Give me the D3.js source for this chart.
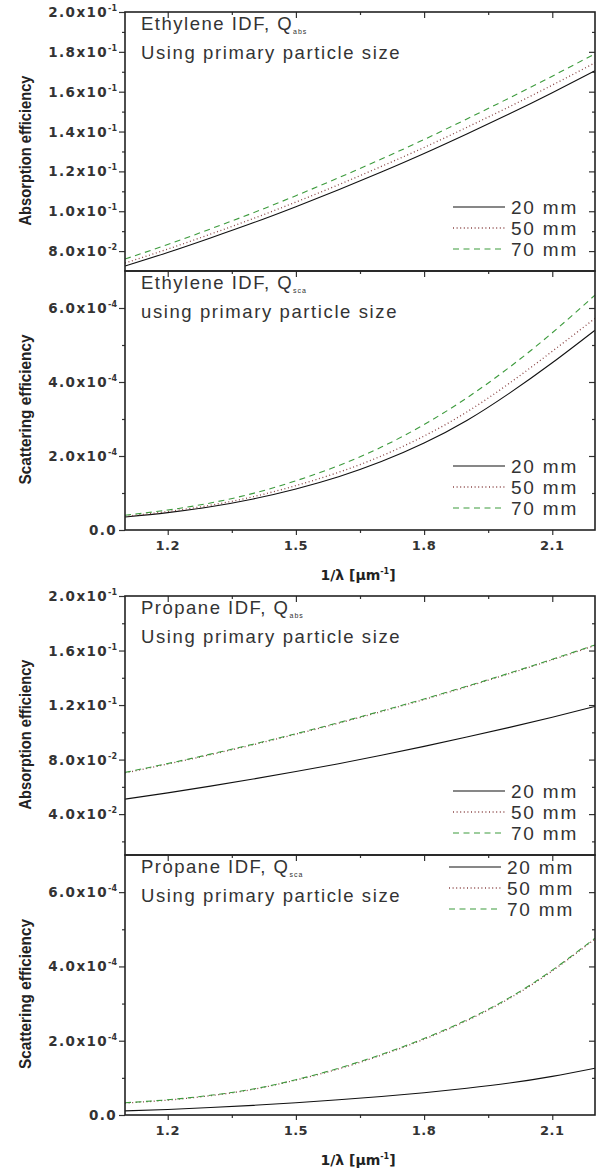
<!DOCTYPE html>
<html>
<head>
<meta charset="utf-8">
<script src="https://cdn.jsdelivr.net/npm/d3@7/dist/d3.min.js"></script>
<style>
  body { margin: 0; background: #fff; }
  svg { display: block; }
</style>
</head>
<body>
<main></main>
<script>
// x values, 1/lambda [um^-1]
const lambdaInv = [1.1, 1.2, 1.3, 1.4, 1.5, 1.6, 1.7, 1.8, 1.9, 2.0, 2.1, 2.2];
const seriesNames = ["20 mm", "50 mm", "70 mm"];

// Ethylene IDF, Q_abs
const ethAbs20 = [0.0725, 0.0793, 0.0866, 0.0942, 0.1023, 0.1108, 0.1197, 0.1290, 0.1388, 0.1489, 0.1595, 0.1705];
const ethAbs50 = [0.0740, 0.0810, 0.0885, 0.0963, 0.1046, 0.1133, 0.1225, 0.1320, 0.1421, 0.1525, 0.1633, 0.1745];
const ethAbs70 = [0.0760, 0.0833, 0.0911, 0.0992, 0.1078, 0.1168, 0.1262, 0.1360, 0.1463, 0.1569, 0.1678, 0.1790];

// Ethylene IDF, Q_sca
const ethSca20 = [0.35e-4, 0.47e-4, 0.63e-4, 0.84e-4, 1.11e-4, 1.44e-4, 1.85e-4, 2.35e-4, 2.96e-4, 3.70e-4, 4.52e-4, 5.40e-4];
const ethSca50 = [0.37e-4, 0.50e-4, 0.67e-4, 0.90e-4, 1.20e-4, 1.56e-4, 2.00e-4, 2.54e-4, 3.19e-4, 3.97e-4, 4.83e-4, 5.72e-4];
const ethSca70 = [0.40e-4, 0.54e-4, 0.73e-4, 0.99e-4, 1.33e-4, 1.74e-4, 2.24e-4, 2.85e-4, 3.57e-4, 4.40e-4, 5.33e-4, 6.35e-4];

// Propane IDF, Q_abs
const propAbs20 = [0.0510, 0.0556, 0.0605, 0.0657, 0.0712, 0.0770, 0.0832, 0.0897, 0.0965, 0.1036, 0.1111, 0.1190];
const propAbs50 = [0.0702, 0.0767, 0.0836, 0.0909, 0.0986, 0.1067, 0.1152, 0.1241, 0.1334, 0.1431, 0.1532, 0.1637];
const propAbs70 = [0.0706, 0.0771, 0.0840, 0.0913, 0.0990, 0.1071, 0.1156, 0.1245, 0.1338, 0.1435, 0.1536, 0.1641];

// Propane IDF, Q_sca
const propSca20 = [0.11e-4, 0.15e-4, 0.20e-4, 0.26e-4, 0.33e-4, 0.41e-4, 0.50e-4, 0.60e-4, 0.72e-4, 0.86e-4, 1.04e-4, 1.26e-4];
const propSca50 = [0.32e-4, 0.40e-4, 0.52e-4, 0.69e-4, 0.94e-4, 1.24e-4, 1.61e-4, 2.04e-4, 2.54e-4, 3.14e-4, 3.88e-4, 4.74e-4];
const propSca70 = [0.33e-4, 0.41e-4, 0.53e-4, 0.70e-4, 0.95e-4, 1.26e-4, 1.63e-4, 2.06e-4, 2.56e-4, 3.16e-4, 3.90e-4, 4.76e-4];

// tick values
const xMajor = [1.2, 1.5, 1.8, 2.1];
const xMinor = [1.35, 1.65, 1.95];
const ethAbsMajor = [0.08, 0.10, 0.12, 0.14, 0.16, 0.18, 0.20];
const ethAbsMinor = [0.07, 0.09, 0.11, 0.13, 0.15, 0.17, 0.19];
const propAbsMajor = [0.04, 0.08, 0.12, 0.16, 0.20];
const propAbsMinor = [0.02, 0.06, 0.10, 0.14, 0.18];
const scaMajor = [0, 2e-4, 4e-4, 6e-4];
const scaMinor = [1e-4, 3e-4, 5e-4, 7e-4];

const w = 605, h = 1170,
	left = 125, right = 595;

const styles = [
	{color: "#111", dash: null, width: 1.1},
	{color: "#8a4545", dash: "1,2.6", width: 1.3},
	{color: "#3d9b3d", dash: "6,4.5", width: 1.1}
];

const panels = [
	{top: 12, bottom: 271, domain: [0.07, 0.20], major: ethAbsMajor, minor: ethAbsMinor,
		ytitle: "Absorption efficiency", name: "Ethylene IDF, Q", sub: "abs", line2: "Using primary particle size",
		data: [ethAbs20, ethAbs50, ethAbs70], legendTop: false, xlabels: false},
	{top: 271, bottom: 530, domain: [0, 7e-4], major: scaMajor, minor: scaMinor,
		ytitle: "Scattering efficiency", name: "Ethylene IDF, Q", sub: "sca", line2: "using primary particle size",
		data: [ethSca20, ethSca50, ethSca70], legendTop: false, xlabels: true},
	{top: 596, bottom: 855, domain: [0.01, 0.20], major: propAbsMajor, minor: propAbsMinor,
		ytitle: "Absorption efficiency", name: "Propane IDF, Q", sub: "abs", line2: "Using primary particle size",
		data: [propAbs20, propAbs50, propAbs70], legendTop: false, xlabels: false},
	{top: 855, bottom: 1115, domain: [0, 7e-4], major: scaMajor, minor: scaMinor,
		ytitle: "Scattering efficiency", name: "Propane IDF, Q", sub: "sca", line2: "Using primary particle size",
		data: [propSca20, propSca50, propSca70], legendTop: true, xlabels: true}
];

const svg = d3.select("main").append("svg")
	.attr("width", w)
	.attr("height", h)
	.style("background", "#fff");

const xScale = d3.scaleLinear().domain([1.1, 2.2]).range([left, right]);

// mantissa / exponent split for the "2.0x10^-1" labels
function sci(v) {
	if (v === 0) return {m: "0.0", e: null};
	const e = Math.floor(Math.log10(v) + 1e-9);
	return {m: (v / Math.pow(10, e)).toFixed(1) + "x10", e: String(e)};
}

const tickFont = "'DejaVu Sans', sans-serif";
const textFont = "'Liberation Sans', Arial, sans-serif";

panels.forEach((p, pi) => {
	const yScale = d3.scaleLinear().domain(p.domain).range([p.bottom, p.top]);
	const g = svg.append("g");

	g.append("clipPath").attr("id", "clip" + pi)
		.append("rect")
		.attr("x", left).attr("y", p.top)
		.attr("width", right - left).attr("height", p.bottom - p.top);

	// curves
	const line = d3.line()
		.x((d, i) => xScale(lambdaInv[i]))
		.y((d) => yScale(d))
		.curve(d3.curveNatural);

	p.data.forEach((s, si) => {
		g.append("path")
			.attr("d", line(s))
			.attr("clip-path", "url(#clip" + pi + ")")
			.attr("fill", "none")
			.attr("stroke", styles[si].color)
			.attr("stroke-width", styles[si].width)
			.attr("stroke-dasharray", styles[si].dash);
	});

	const inner = (v) => v > p.domain[0] && v < p.domain[1];

	// left axis: outward ticks
	g.append("g")
		.attr("transform", "translate(" + left + ",0)")
		.call(d3.axisLeft(yScale).tickValues(p.major).tickSize(6).tickFormat(""));
	g.append("g")
		.attr("transform", "translate(" + left + ",0)")
		.call(d3.axisLeft(yScale).tickValues(p.minor.filter(inner)).tickSize(3).tickFormat(""));

	// right axis: inward ticks
	g.append("g")
		.attr("transform", "translate(" + right + ",0)")
		.call(d3.axisRight(yScale).tickValues(p.major.filter(inner)).tickSize(-6).tickFormat(""));
	g.append("g")
		.attr("transform", "translate(" + right + ",0)")
		.call(d3.axisRight(yScale).tickValues(p.minor.filter(inner)).tickSize(-3).tickFormat(""));

	// top axis: inward ticks
	g.append("g")
		.attr("transform", "translate(0," + p.top + ")")
		.call(d3.axisTop(xScale).tickValues(xMajor).tickSize(-6).tickFormat(""));
	g.append("g")
		.attr("transform", "translate(0," + p.top + ")")
		.call(d3.axisTop(xScale).tickValues(xMinor).tickSize(-3).tickFormat(""));

	// bottom axis: outward ticks + labels
	if (p.xlabels) {
		g.append("g")
			.attr("transform", "translate(0," + p.bottom + ")")
			.call(d3.axisBottom(xScale).tickValues(xMajor).tickSize(5).tickFormat(""));
		g.append("g")
			.attr("transform", "translate(0," + p.bottom + ")")
			.call(d3.axisBottom(xScale).tickValues(xMinor).tickSize(3).tickFormat(""));

		g.selectAll(".xlab")
			.data(xMajor)
			.enter()
			.append("text")
			.attr("x", (d) => xScale(d))
			.attr("y", p.bottom + 20)
			.attr("text-anchor", "middle")
			.style("font-family", tickFont)
			.style("font-weight", "bold")
			.style("font-size", "13px")
			.style("letter-spacing", "0.5px")
			.style("fill", "#333")
			.text((d) => d.toFixed(1));

		const xt = g.append("text")
			.attr("x", (left + right) / 2 - 2)
			.attr("y", p.bottom + 50)
			.attr("text-anchor", "middle")
			.style("font-family", tickFont)
			.style("font-weight", "bold")
			.style("font-size", "14px")
			.style("fill", "#222");
		xt.append("tspan").text("1/\u03bb [\u03bcm");
		xt.append("tspan").attr("dy", -6).style("font-size", "8px").text("-1");
		xt.append("tspan").attr("dy", 6).text("]");
	}

	g.selectAll("path.domain").remove();
	g.selectAll(".tick line").attr("stroke", "#333").attr("stroke-width", 1.2);

	// y tick labels
	const lab = g.selectAll(".ylab")
		.data(p.major)
		.enter()
		.append("text")
		.attr("x", left - 8)
		.attr("y", (d) => yScale(d) + 5)
		.attr("text-anchor", "end")
		.style("font-family", tickFont)
		.style("font-weight", "bold")
		.style("font-size", "13.5px")
		.style("letter-spacing", "1.4px")
		.style("fill", "#333");
	lab.each(function(d) {
		const s = sci(d);
		const t = d3.select(this);
		t.append("tspan").text(s.m);
		if (s.e) {
			t.append("tspan").attr("dy", -6).style("font-size", "8px").style("letter-spacing", "0px").text(s.e);
		}
	});

	// y title
	g.append("text")
		.attr("transform", "translate(31," + ((p.top + p.bottom) / 2 + 9) + ") rotate(-90)")
		.attr("text-anchor", "middle")
		.attr("textLength", 150)
		.attr("lengthAdjust", "spacingAndGlyphs")
		.style("font-family", textFont)
		.style("font-weight", "bold")
		.style("font-size", "17px")
		.style("fill", "#222")
		.text(p.ytitle);

	// frame
	g.append("rect")
		.attr("x", left).attr("y", p.top)
		.attr("width", right - left).attr("height", p.bottom - p.top)
		.attr("fill", "none")
		.attr("stroke", "#222")
		.attr("stroke-width", 1.6);

	// annotation
	const t1 = g.append("text")
		.attr("x", 141)
		.attr("y", p.top + 18)
		.style("font-family", textFont)
		.style("font-size", "18.5px")
		.style("letter-spacing", "1.5px")
		.style("fill", "#333");
	t1.append("tspan").text(p.name);
	t1.append("tspan").attr("dy", 4).style("font-size", "7px").style("letter-spacing", "1px").text(p.sub);
	g.append("text")
		.attr("x", 141)
		.attr("y", p.top + 47)
		.style("font-family", textFont)
		.style("font-size", "18.5px")
		.style("letter-spacing", "1.6px")
		.style("fill", "#333")
		.text(p.line2);

	// legend
	const rowY = p.legendTop
		? [p.top + 12, p.top + 33, p.top + 54]
		: [p.bottom - 64, p.bottom - 43, p.bottom - 22];
	const lx0 = p.legendTop ? 449 : 453, lx1 = p.legendTop ? 501 : 505;
	seriesNames.forEach((n, si) => {
		g.append("line")
			.attr("x1", lx0).attr("x2", lx1)
			.attr("y1", rowY[si]).attr("y2", rowY[si])
			.attr("stroke", styles[si].color)
			.attr("stroke-width", styles[si].width)
			.attr("stroke-dasharray", styles[si].dash);
		g.append("text")
			.attr("x", lx1 + 6)
			.attr("y", rowY[si] + 7)
			.style("font-family", textFont)
			.style("font-size", "19px")
			.style("letter-spacing", "1.8px")
			.style("fill", "#333")
			.text(n);
	});
});
</script>
</body>
</html>
